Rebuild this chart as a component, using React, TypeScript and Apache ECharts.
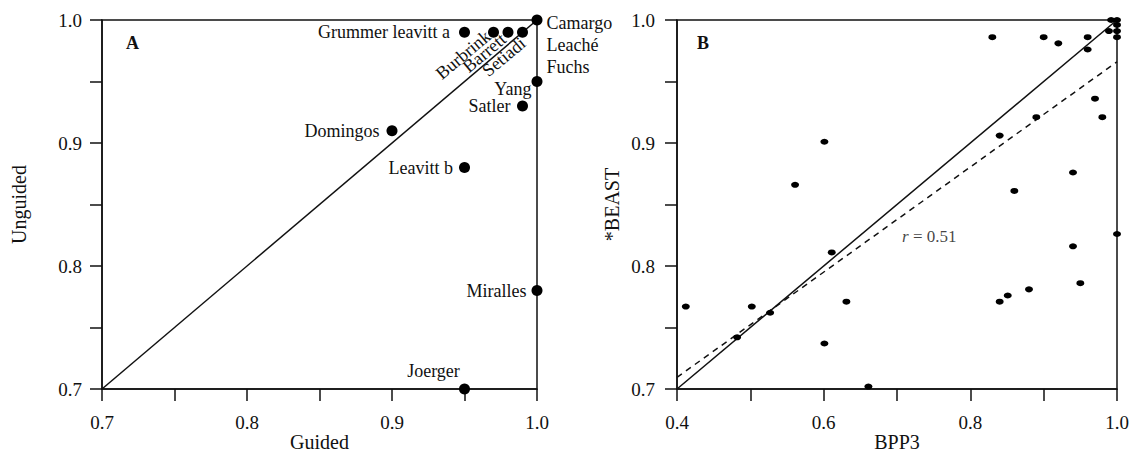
import React, { useEffect, useRef } from "react";
import * as echarts from "echarts";

// Panel A data
const namesA = ["Camargo\nLeaché\nFuchs", "Grummer leavitt a", "Burbrink", "Barrett", "Setiadi", "Yang", "Satler", "Domingos", "Leavitt b", "Miralles", "Joerger"];
const guided = [1.0, 0.95, 0.97, 0.98, 0.99, 1.0, 0.99, 0.9, 0.95, 1.0, 0.95];
const unguided = [1.0, 0.99, 0.99, 0.99, 0.99, 0.95, 0.93, 0.91, 0.88, 0.78, 0.7];

// Panel B data
const bpp3 = [0.83, 0.9, 0.92, 0.96, 0.96, 0.989, 0.992, 1.0, 1.0, 1.0, 1.0, 0.97, 0.98, 0.89, 0.84, 0.601, 0.561, 0.86, 0.94, 1.0, 0.94, 0.611, 0.95, 0.88, 0.851, 0.84, 0.631, 0.412, 0.502, 0.601, 0.661, 0.527, 0.482];
const beast = [0.986, 0.986, 0.981, 0.986, 0.976, 0.991, 1.0, 1.0, 0.996, 0.991, 0.986, 0.936, 0.921, 0.921, 0.906, 0.901, 0.866, 0.861, 0.876, 0.826, 0.816, 0.811, 0.786, 0.781, 0.776, 0.771, 0.771, 0.767, 0.767, 0.737, 0.702, 0.762, 0.742];

const identityA = [[0.7, 0.7], [1.0, 1.0]];
const identityB = [[0.4, 0.7], [1.0, 1.0]];
const regressionB = [[0.4, 0.7095], [1.0, 0.966]];
const rLabelPos = [0.744, 0.824];
const rValue = "0.51";

const FONT = "'Liberation Serif', 'Times New Roman', serif";
const INK = "#111";

const labelStyleA: Record<string, any> = {
  "Camargo\nLeaché\nFuchs": { position: "right", distance: 4, offset: [0, 25], align: "left", lineHeight: 22 },
  "Grummer leavitt a": { position: "left", distance: 9 },
  Burbrink: { position: [0, 7], rotate: 40, align: "right", verticalAlign: "middle" },
  Barrett: { position: [1, 10], rotate: 40, align: "right", verticalAlign: "middle" },
  Setiadi: { position: [6, 14], rotate: 40, align: "right", verticalAlign: "middle" },
  Yang: { position: "left", distance: 0, offset: [0, 7] },
  Satler: { position: "left", distance: 6.5 },
  Domingos: { position: "left", distance: 7 },
  "Leavitt b": { position: "left", distance: 6 },
  Miralles: { position: "left", distance: 5 },
  Joerger: { position: "top", distance: 4, offset: [-31, 0] },
};

const halfLabel = (v: number) => {
  const r = Math.round(v * 20);
  return r % 2 === 0 ? (r / 20).toFixed(1) : "";
};

export default function App() {
  const ref = useRef<HTMLDivElement>(null);
  useEffect(() => {
    if (!ref.current) return;
    const chart = echarts.init(ref.current, null, { renderer: "svg" });
    const axisCommon = {
      axisLine: { show: true, onZero: false, lineStyle: { color: INK, width: 1.5 } },
      axisTick: { show: true, inside: false, length: 12, lineStyle: { color: INK, width: 1.5 } },
      splitLine: { show: false },
      nameLocation: "middle",
      nameMoveOverlap: false,
      nameTextStyle: { fontFamily: FONT, fontSize: 20, lineHeight: 20, color: INK },
    };
    const tickText = { fontFamily: FONT, fontSize: 19, color: INK };
    const labelText = { fontFamily: FONT, fontSize: 18, color: INK };
    chart.setOption({
      animation: false,
      backgroundColor: "#fff",
      grid: [
        { left: 102, top: 20, width: 435, height: 369, outerBoundsMode: "none", containLabel: false, show: true, borderColor: INK, borderWidth: 1.5, backgroundColor: "transparent" },
        { left: 677, top: 20, width: 440, height: 369, outerBoundsMode: "none", containLabel: false, show: true, borderColor: INK, borderWidth: 1.5, backgroundColor: "transparent" },
      ],
      xAxis: [
        {
          ...axisCommon, gridIndex: 0, type: "value", min: 0.7, max: 1.0, interval: 0.05,
          name: "Guided", nameGap: 43,
          axisLabel: { ...tickText, margin: 24, formatter: halfLabel, showMinLabel: true, showMaxLabel: true },
        },
        {
          ...axisCommon, gridIndex: 1, type: "value", min: 0.4, max: 1.0, interval: 0.1,
          name: "BPP3", nameGap: 43,
          axisLabel: {
            ...tickText, margin: 24, showMinLabel: true, showMaxLabel: true,
            formatter: (v: number) => { const r = Math.round(v * 10); return r % 2 === 0 ? (r / 10).toFixed(1) : ""; },
          },
        },
      ],
      yAxis: [
        {
          ...axisCommon, gridIndex: 0, type: "value", min: 0.7, max: 1.0, interval: 0.05,
          name: "Unguided", nameGap: 73,
          axisLabel: { ...tickText, margin: 20, formatter: halfLabel, showMinLabel: true, showMaxLabel: true },
        },
        {
          ...axisCommon, gridIndex: 1, type: "value", min: 0.7, max: 1.0, interval: 0.05,
          name: "*BEAST", nameGap: 55,
          axisLabel: { ...tickText, margin: 22, formatter: halfLabel, showMinLabel: true, showMaxLabel: true },
        },
      ],
      graphic: [
        { type: "text", left: 126, top: 34, style: { text: "A", font: `bold 18px ${FONT}`, fill: INK } },
        { type: "text", left: 697, top: 34, style: { text: "B", font: `bold 18px ${FONT}`, fill: INK } },
      ],
      series: [
        {
          type: "line", xAxisIndex: 0, yAxisIndex: 0, data: identityA, symbol: "none",
          lineStyle: { color: INK, width: 1.5 }, silent: true, z: 2,
        },
        {
          type: "scatter", xAxisIndex: 0, yAxisIndex: 0, symbolSize: 11,
          itemStyle: { color: "#000", opacity: 1 }, z: 3,
          data: guided.map((g, i) => ({
            value: [g, unguided[i]],
            label: { show: true, formatter: namesA[i], ...labelText, ...labelStyleA[namesA[i]] },
          })),
        },
        {
          type: "line", xAxisIndex: 1, yAxisIndex: 1, data: identityB, symbol: "none",
          lineStyle: { color: INK, width: 1.5 }, silent: true, z: 2,
        },
        {
          type: "line", xAxisIndex: 1, yAxisIndex: 1, data: regressionB, symbol: "none",
          lineStyle: { color: INK, width: 1.5, type: [6, 5] }, silent: true, z: 2,
        },
        {
          type: "scatter", xAxisIndex: 1, yAxisIndex: 1, symbolSize: [8, 6],
          itemStyle: { color: "#000", opacity: 1 }, z: 3,
          data: bpp3.map((b, i) => [b, beast[i]]),
        },
        {
          type: "scatter", xAxisIndex: 1, yAxisIndex: 1, symbolSize: 0, silent: true,
          data: [rLabelPos],
          label: {
            show: true, position: "inside",
            formatter: `{i|r}{n| = ${rValue}}`,
            rich: {
              i: { fontFamily: FONT, fontSize: 17, fontStyle: "italic", color: INK },
              n: { fontFamily: FONT, fontSize: 17, color: INK },
            },
          },
        },
      ],
    });
    return () => chart.dispose();
  }, []);
  return <div ref={ref} style={{ position: "fixed", left: 0, top: 0, width: 1129, height: 456 }} />;
}
